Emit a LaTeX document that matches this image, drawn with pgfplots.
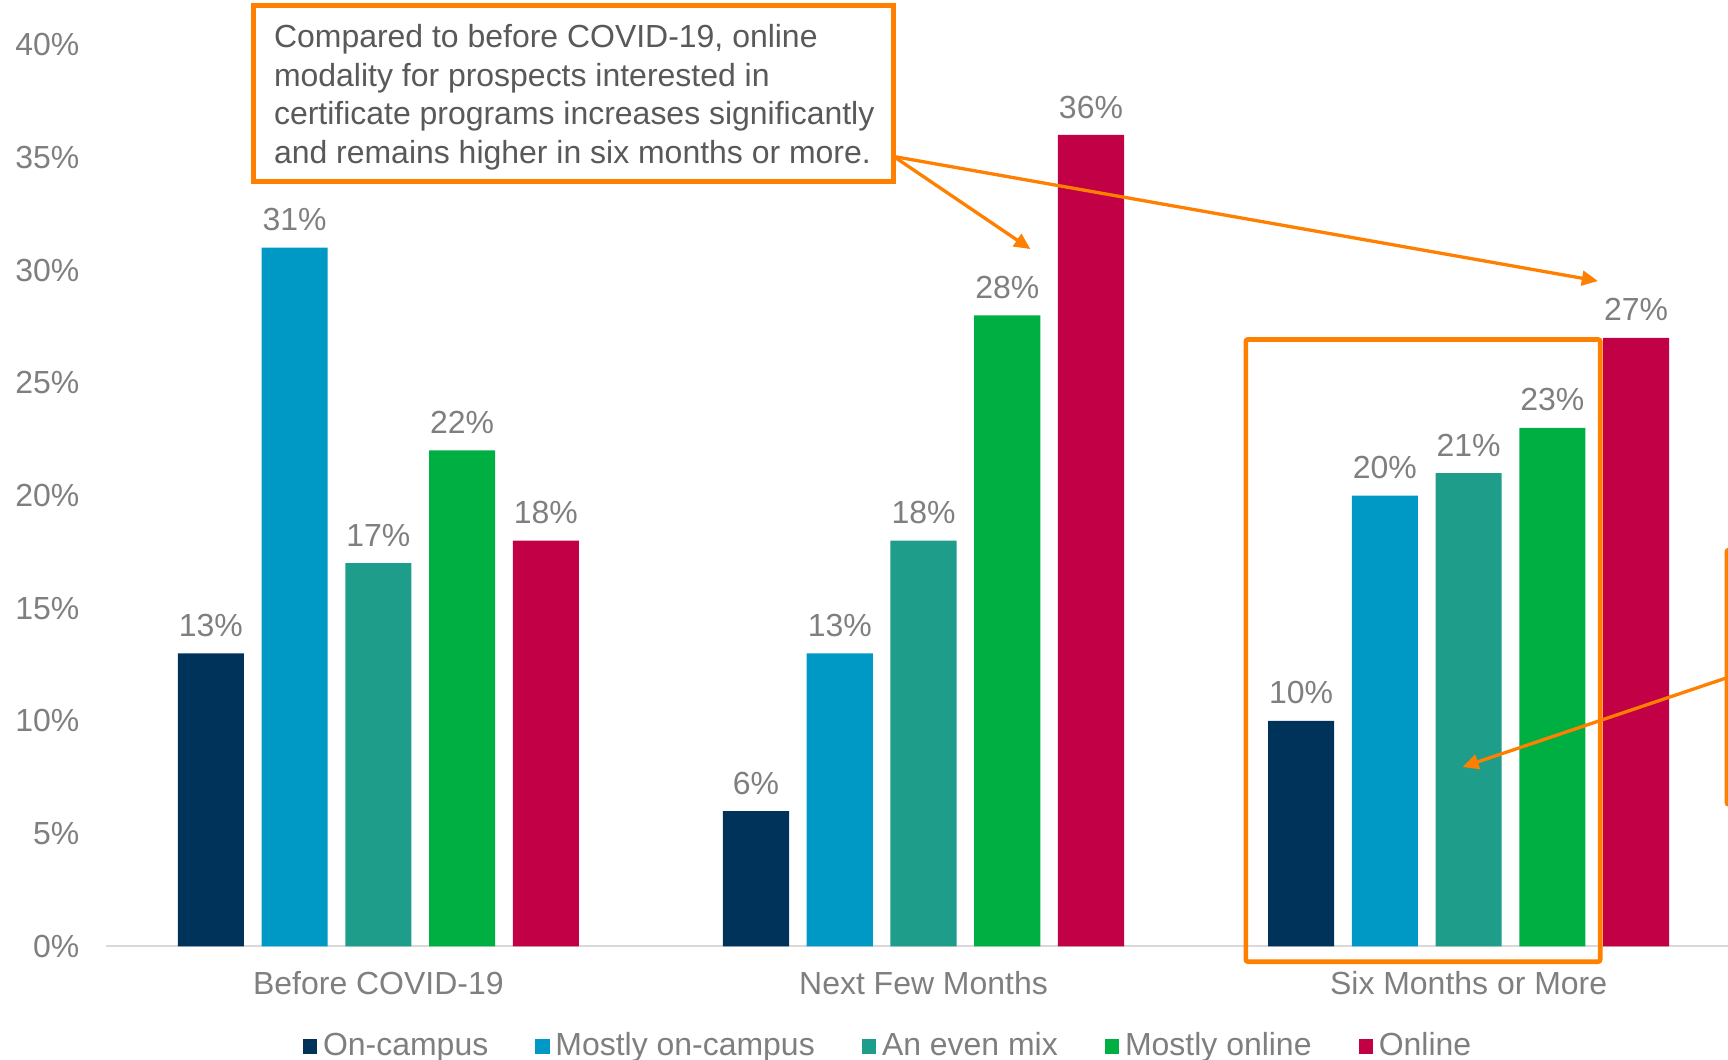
\documentclass[border=0pt]{standalone}
\usepackage{pgfplots}
\pgfplotsset{compat=1.18}
\usetikzlibrary{arrows.meta}
\usepackage{fontspec}
\setmainfont{Liberation Sans}
\definecolor{cNavy}{HTML}{00335A}
\definecolor{cBlue}{HTML}{0098C4}
\definecolor{cTeal}{HTML}{1E9D8B}
\definecolor{cGreen}{HTML}{00AF41}
\definecolor{cRed}{HTML}{C20045}
\definecolor{cOrange}{HTML}{FF7F00}
\definecolor{cGray}{HTML}{7F7F7F}
\definecolor{cDark}{HTML}{595959}
\definecolor{cLine}{HTML}{D9D9D9}
\newcommand{\chartfont}{\fontsize{8.7}{10.5}\selectfont}
\begin{document}
\begin{tikzpicture}[x=0.3pt,y=0.3pt]
\useasboundingbox (0,0) rectangle (1568,961);
\clip (0,0) rectangle (1568,961);
\begin{axis}[
  at={(28.8pt,30.7pt)}, anchor=south west,
  scale only axis, width=445.2pt, height=245.4pt,
  ybar, bar width=0.1213,
  xmin=-0.5, xmax=2.5, ymin=0, ymax=40,
  axis x line=bottom, axis y line=left,
  x axis line style={-, draw=cLine, line width=0.6pt},
  y axis line style={draw=none},
  xtick={0,1,2},
  xticklabels={Before COVID-19, Next Few Months, Six Months or More},
  ytick={0,5,...,40},
  yticklabel={\pgfmathprintnumber{\tick}\%},
  /pgf/number format/assume math mode=true,
  major tick length=0pt,
  tick style={draw=none},
  xticklabel style={anchor=base, yshift=-13pt, font=\chartfont, text=cGray},
  yticklabel style={anchor=east, inner xsep=0pt, xshift=-7.0pt, font=\chartfont, text=cGray},
  nodes near coords={\pgfmathprintnumber{\pgfplotspointmeta}\%},
  every node near coord/.append style={font=\chartfont, text=cGray, yshift=1.0pt},
  legend columns=-1,
  legend style={draw=none, fill=none, font=\chartfont, text=cGray,
    at={(0.4795,-0.1113)}, anchor=center,
    /tikz/every even column/.append style={column sep=11.2pt},
    nodes={inner xsep=1.6pt}},
  legend image code/.code={\fill[#1,draw=none] (0pt,-1.95pt) rectangle (3.9pt,1.95pt);},
  clip=false,
]
\addplot[fill=cNavy, draw=none, bar shift=-0.3072] coordinates {(0,13) (1,6) (2,10)};
\addplot[fill=cBlue, draw=none, bar shift=-0.1536] coordinates {(0,31) (1,13) (2,20)};
\addplot[fill=cTeal, draw=none, bar shift=0] coordinates {(0,17) (1,18) (2,21)};
\addplot[fill=cGreen, draw=none, bar shift=0.1536] coordinates {(0,22) (1,28) (2,23)};
\addplot[fill=cRed, draw=none, bar shift=0.3072] coordinates {(0,18) (1,36) (2,27)};
\legend{On-campus, Mostly on-campus, An even mix, Mostly online, Online}
\end{axis}
% annotation box
\draw[cOrange, line width=1.28pt, fill=white] (230,796) rectangle (811,956);
\begin{scope}[every node/.style={anchor=base west, inner sep=0pt, font=\chartfont, text=cDark}]
\node at (248,917.6) {Compared to before COVID-19, online};
\node at (248,882.6) {modality for prospects interested in};
\node at (248,847.6) {certificate programs increases significantly};
\node at (248,812.6) {and remains higher in six months or more.};
\end{scope}
\draw[cOrange, line width=0.9pt, -{Triangle[length=4.4pt,width=4pt]}] (811,819) -- (935,735);
\draw[cOrange, line width=0.9pt, -{Triangle[length=4.4pt,width=4pt]}] (811,819) -- (1450,706);
\draw[cOrange, line width=1.28pt, rounded corners=0.6pt] (1130.5,88.4) rectangle (1452,653);
\draw[cOrange, line width=1.28pt, rounded corners=0.6pt] (1567,231) rectangle (1700,462);
\draw[cOrange, line width=0.9pt, -{Triangle[length=4.4pt,width=4pt]}] (1567,346) -- (1327,265);
\end{tikzpicture}
\end{document}
